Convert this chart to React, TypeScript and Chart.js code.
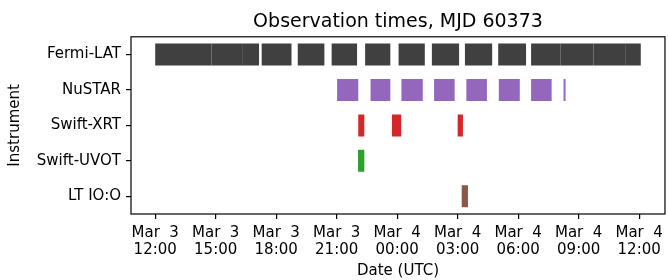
import { useEffect, useRef } from "react";
import { Chart, registerables } from "chart.js";

Chart.register(...registerables);

// Instruments (top to bottom)
const instruments = ["Fermi-LAT", "NuSTAR", "Swift-XRT", "Swift-UVOT", "LT IO:O"];

// Observation windows, hours since 2023-03-03 00:00 UTC, [start, end]
const fermiLat = [
  [12.0, 13.23], [13.23, 14.79], [14.79, 16.35], [16.35, 17.15],
  [17.28, 18.76], [19.07, 20.39], [20.75, 22.01], [22.41, 23.66],
  [24.07, 25.37], [25.72, 27.07], [27.36, 28.71], [29.01, 30.39],
  [30.64, 32.09], [32.09, 33.74], [33.74, 35.34], [35.34, 36.08],
];
const nustar = [
  [21.02, 22.07], [22.68, 23.66], [24.21, 25.27], [25.83, 26.85],
  [27.43, 28.45], [29.04, 30.08], [30.64, 31.66], [32.25, 32.35],
];
const swiftXrt = [[22.07, 22.37], [23.74, 24.2], [27.0, 27.26]];
const swiftUvot = [[22.06, 22.37]];
const ltIoO = [[27.2, 27.51]];

const tickHours = [12, 15, 18, 21, 24, 27, 30, 33, 36];
const tickLabels = [
  ["Mar  3", "12:00"], ["Mar  3", "15:00"], ["Mar  3", "18:00"],
  ["Mar  3", "21:00"], ["Mar  4", "00:00"], ["Mar  4", "03:00"],
  ["Mar  4", "06:00"], ["Mar  4", "09:00"], ["Mar  4", "12:00"],
];
const xMin = 10.8;
const xMax = 37.28;

const FONT = "'DejaVu Sans', sans-serif";

const framePlugin = {
  id: "frame",
  afterDatasetsDraw(chart: any) {
    const { ctx, chartArea } = chart;
    const { left, top, right, bottom } = chartArea;
    ctx.save();
    ctx.strokeStyle = "#000";
    ctx.lineWidth = 1.2;
    ctx.strokeRect(left, top, right - left, bottom - top);
    ctx.restore();
  },
};

function toData(segs: number[][], label: string) {
  return segs.map((s) => ({ x: [s[0], s[1]], y: label }));
}

export default function App() {
  const ref = useRef<HTMLCanvasElement>(null);
  useEffect(() => {
    const series = [
      { label: instruments[0], segs: fermiLat, color: "#404040" },
      { label: instruments[1], segs: nustar, color: "#9467bd" },
      { label: instruments[2], segs: swiftXrt, color: "#d62728" },
      { label: instruments[3], segs: swiftUvot, color: "#2ca02c" },
      { label: instruments[4], segs: ltIoO, color: "#8c564b" },
    ];
    const chart = new Chart(ref.current as HTMLCanvasElement, {
      type: "bar",
      data: {
        labels: instruments,
        datasets: series.map((s) => ({
          label: s.label,
          data: toData(s.segs, s.label) as any,
          backgroundColor: s.color,
          borderWidth: 0,
          grouped: false,
          barPercentage: 0.62,
          categoryPercentage: 1.0,
        })),
      },
      options: {
        indexAxis: "y",
        animation: false,
        responsive: false,
        devicePixelRatio: 1,
        layout: { padding: { left: 0, right: 2, top: 0, bottom: 0 } },
        plugins: {
          legend: { display: false },
          tooltip: { enabled: false },
          title: {
            display: true,
            fullSize: false,
            text: "Observation times, MJD 60373",
            color: "#000",
            font: { family: FONT, size: 19, weight: "normal" },
            padding: { top: 10.5, bottom: 3.5 },
          },
        },
        scales: {
          x: {
            type: "linear",
            min: xMin,
            max: xMax,
            afterBuildTicks: (s: any) => {
              s.ticks = tickHours.map((v) => ({ value: v }));
            },
            afterFit: (s: any) => {
              s.height = 66;
            },
            ticks: {
              callback: (_v: any, i: number) => tickLabels[i],
              color: "#000",
              font: { family: FONT, size: 15, lineHeight: 1.15 },
              padding: 5,
              maxRotation: 0,
              autoSkip: false,
            },
            grid: {
              display: true,
              drawOnChartArea: false,
              drawTicks: true,
              tickLength: 5,
              color: "#000",
              lineWidth: 1.2,
            },
            border: { display: false },
            title: {
              display: true,
              text: "Date (UTC)",
              color: "#000",
              font: { family: FONT, size: 15 },
              padding: { top: 0, bottom: 0 },
            },
          },
          y: {
            type: "category",
            offset: true,
            afterFit: (s: any) => {
              s.width = 131;
            },
            ticks: {
              color: "#000",
              font: { family: FONT, size: 15 },
              padding: 5,
            },
            grid: {
              display: true,
              offset: false,
              drawOnChartArea: false,
              drawTicks: true,
              tickLength: 5,
              color: "#000",
              lineWidth: 1.2,
            },
            border: { display: false },
            title: {
              display: true,
              text: "Instrument",
              color: "#000",
              font: { family: FONT, size: 15 },
              padding: { top: 6, bottom: 0 },
            },
          },
        },
      },
      plugins: [framePlugin],
    });
    return () => chart.destroy();
  }, []);
  return (
    <div style={{ position: "fixed", left: 0, top: 0, width: 668, height: 280, background: "#fff" }}>
      <canvas ref={ref} width={668} height={280} style={{ display: "block", width: 668, height: 280 }} />
    </div>
  );
}
